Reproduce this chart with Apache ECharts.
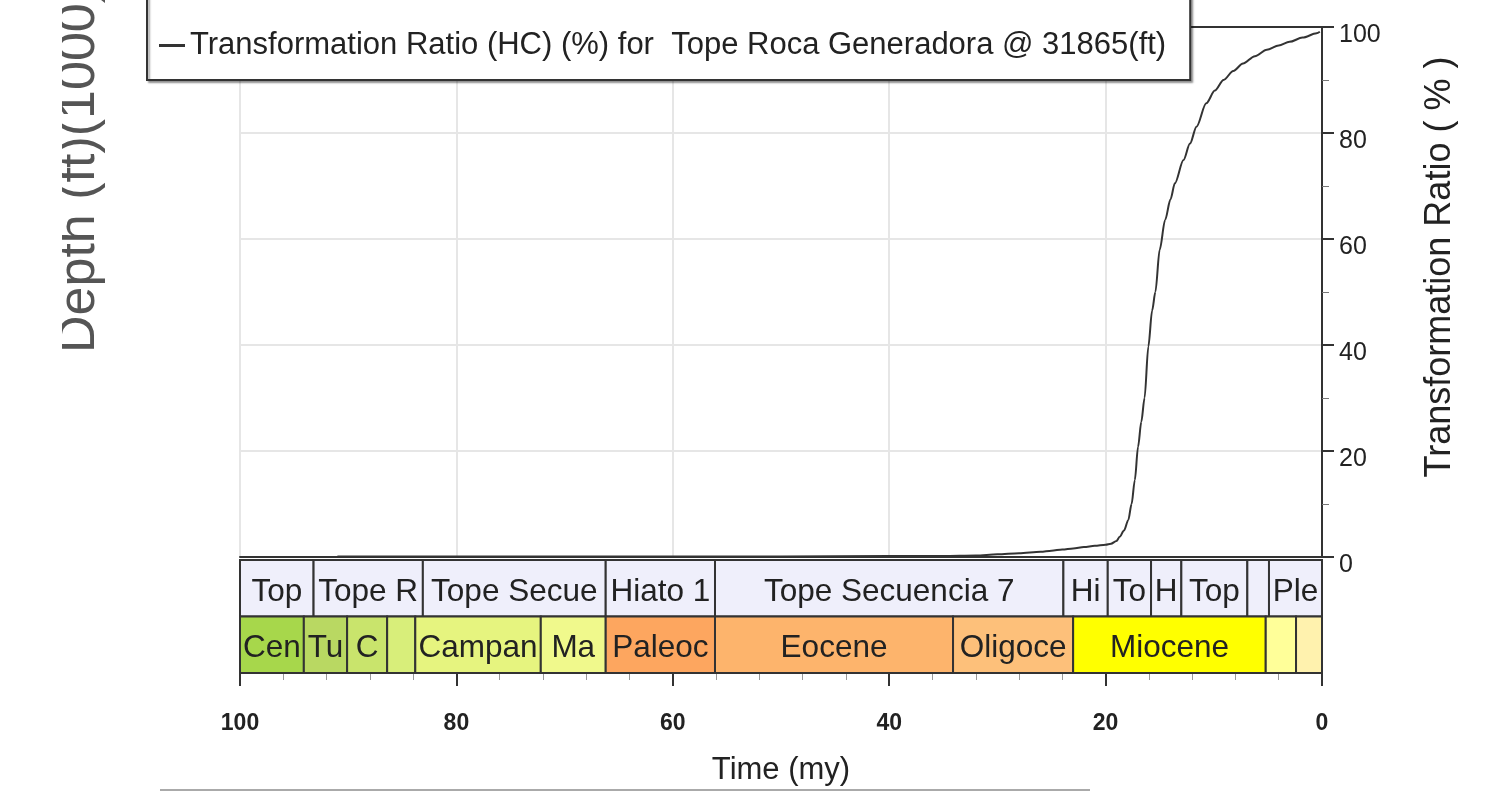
<!DOCTYPE html>
<html>
<head>
<meta charset="utf-8">
<script src="https://cdn.jsdelivr.net/npm/echarts@6/dist/echarts.min.js"></script>
<style>html,body{margin:0;padding:0;background:#fff;}#chart{width:1512px;height:793px;}</style>
</head>
<body>
<div id="chart"></div>
<script>
// ---- data ----
const seriesName = 'Transformation Ratio (HC) (%) for  Tope Roca Generadora @ 31865(ft)';
const timeMy = [91, 85, 80, 70, 60, 50, 40, 35, 32, 30, 28, 26, 25, 24, 23, 22, 21, 20, 19.5, 19, 18.7, 18.3, 17.9, 17.6, 17.3, 17.0, 16.7, 16.4, 16.05, 15.7, 15.4, 15.0, 14.5, 14.0, 13.6, 12.8, 12.2, 11.6, 10.7, 9.9, 9.1, 8.2, 7.3, 6.2, 5.1, 4.0, 3.0, 1.8, 0.5, 0.2];
const trPct  = [0.1, 0.1, 0.1, 0.1, 0.1, 0.1, 0.2, 0.2, 0.3, 0.5, 0.7, 1.0, 1.2, 1.4, 1.6, 1.9, 2.1, 2.3, 2.5, 3.0, 3.8, 5.0, 7.0, 10.0, 14.5, 20.8, 25.5, 30.0, 39.7, 46.5, 50.0, 58.0, 63.6, 67.5, 70.5, 74.9, 78.0, 81.2, 85.6, 88.0, 90.0, 91.7, 93.1, 94.5, 95.7, 96.5, 97.2, 98.0, 98.8, 99.1];

const seqStart  = [100, 93.2, 83.1, 66.2, 56.1, 23.9, 19.8, 15.8, 13.0, 6.9, 4.9];
const seqEnd    = [93.2, 83.1, 66.2, 56.1, 23.9, 19.8, 15.8, 13.0, 6.9, 4.9, 0];
const seqLabels = ['Top', 'Tope R', 'Tope Secue', 'Hiato 1', 'Tope Secuencia 7', 'Hi', 'To', 'H', 'Top', '', 'Ple'];

const epochStart  = [100, 94.1, 90.1, 86.4, 83.8, 72.2, 66.2, 56.1, 34.1, 23.0, 5.2, 2.4];
const epochEnd    = [94.1, 90.1, 86.4, 83.8, 72.2, 66.2, 56.1, 34.1, 23.0, 5.2, 2.4, 0];
const epochLabels = ['Cen', 'Tu', 'C', '', 'Campan', 'Ma', 'Paleoc', 'Eocene', 'Oligoce', 'Miocene', '', ''];

const xTicks = [0, 20, 40, 60, 80, 100];
const yTicks = [0, 20, 40, 60, 80, 100];

const xAxisTitle = 'Time (my)';
const yAxisTitle = 'Transformation Ratio ( % )';
const leftTitle = 'Depth (ft)(1000)';

// ---- styles ----
const epochColors = ['#a7d74b', '#b9d862', '#c9e46c', '#d8ee7a', '#e6f47f', '#f0f98c', '#fda65f', '#fdb46c', '#fdc07a', '#ffff00', '#ffff99', '#fff2ae'];
const seqColor = '#efeffb';
const FONT = '"Liberation Sans", Arial, sans-serif';

const chart = echarts.init(document.getElementById('chart'), null, {renderer: 'canvas'});

function bandRenderer(starts, ends, labels, colorFn) {
  return function (params, api) {
    const i = params.dataIndex;
    const row = api.value(2);
    const p1 = api.coord([starts[i], row + 1]);
    const p2 = api.coord([ends[i], row]);
    const x = Math.min(p1[0], p2[0]);
    const y = Math.min(p1[1], p2[1]);
    const w = Math.abs(p2[0] - p1[0]);
    const h = Math.abs(p2[1] - p1[1]);
    return {
      type: 'group',
      children: [
        {type: 'rect', shape: {x: x, y: y, width: w, height: h},
         style: {fill: colorFn(i), stroke: '#333', lineWidth: 2}},
        {type: 'text', x: x + w / 2, y: y + h / 2 + 4,
         style: {text: labels[i], fill: '#222', font: '31.5px ' + FONT, align: 'center', verticalAlign: 'middle'}}
      ]
    };
  };
}

const seqData = seqStart.map((s, i) => [s, seqEnd[i], 1]);
const epochData = epochStart.map((s, i) => [s, epochEnd[i], 0]);

const option = {
  animation: false,
  backgroundColor: '#fff',
  textStyle: {fontFamily: FONT},
  legend: {
    data: [seriesName],
    left: 147, top: -10,
    icon: 'rect', itemWidth: 26, itemHeight: 3, itemGap: 0,
    selectedMode: false,
    textStyle: {fontSize: 31, color: '#222', fontFamily: FONT},
    backgroundColor: '#fff', borderColor: '#333', borderWidth: 2,
    padding: [40, 24, 19, 12],
    shadowColor: 'rgba(0,0,0,0.35)', shadowBlur: 2, shadowOffsetX: 2, shadowOffsetY: 2,
    z: 20
  },
  grid: [
    {left: 240, right: 190, top: 27, height: 530},
    {left: 240, right: 190, top: 560, height: 113}
  ],
  xAxis: [
    {gridIndex: 0, type: 'value', min: 0, max: 100, interval: 20, inverse: true, position: 'bottom',
     axisLine: {show: true, onZero: false, lineStyle: {color: '#333', width: 2}},
     axisTick: {show: false}, axisLabel: {show: false},
     splitLine: {show: true, lineStyle: {color: '#e6e6e6', width: 2}}},
    {gridIndex: 0, type: 'value', min: 0, max: 100, inverse: true, position: 'top',
     axisLine: {show: true, onZero: false, lineStyle: {color: '#333', width: 2}},
     axisTick: {show: false}, axisLabel: {show: false}, splitLine: {show: false}},
    {gridIndex: 1, type: 'value', min: 0, max: 100, interval: 20, inverse: true, position: 'bottom',
     axisLine: {show: true, onZero: false, lineStyle: {color: '#333', width: 2}},
     axisTick: {show: true, inside: false, length: 13, lineStyle: {color: '#333', width: 2}},
     minorTick: {show: true, splitNumber: 5, length: 7, lineStyle: {color: '#999', width: 1}},
     axisLabel: {show: true, fontSize: 23, fontWeight: 'bold', color: '#222', margin: 39,
       formatter: v => xTicks.indexOf(v) >= 0 ? String(v) : ''},
     splitLine: {show: false},
     name: xAxisTitle, nameLocation: 'middle', nameGap: 82,
     nameTextStyle: {fontSize: 31, color: '#222'}}
  ],
  yAxis: [
    {gridIndex: 0, type: 'value', min: 0, max: 100, interval: 20, position: 'right',
     axisLine: {show: true, lineStyle: {color: '#333', width: 2}},
     axisTick: {show: true, inside: false, length: 12, lineStyle: {color: '#333', width: 2}},
     minorTick: {show: true, splitNumber: 2, length: 7, lineStyle: {color: '#777', width: 1}},
     axisLabel: {fontSize: 25, color: '#222', margin: 17, verticalAlign: 'top', lineHeight: 16,
       formatter: v => yTicks.indexOf(v) >= 0 ? String(v) : ''},
     splitLine: {show: true, lineStyle: {color: '#e6e6e6', width: 2}}},
    {gridIndex: 0, type: 'value', min: 0, max: 100, position: 'left',
     axisLine: {show: true, lineStyle: {color: '#333', width: 2}},
     axisTick: {show: false}, axisLabel: {show: false}, splitLine: {show: false}},
    {gridIndex: 1, type: 'value', min: 0, max: 2, position: 'left',
     axisLine: {show: true, lineStyle: {color: '#333', width: 2}},
     axisTick: {show: false}, axisLabel: {show: false}, splitLine: {show: false}},
    {gridIndex: 1, type: 'value', min: 0, max: 2, position: 'right',
     axisLine: {show: true, lineStyle: {color: '#333', width: 2}},
     axisTick: {show: false}, axisLabel: {show: false}, splitLine: {show: false}}
  ],
  series: [
    {name: seriesName, type: 'line', xAxisIndex: 0, yAxisIndex: 0,
     data: timeMy.map((t, i) => [t, trPct[i]]),
     showSymbol: false, smooth: 0.3, smoothMonotone: 'x',
     lineStyle: {color: '#333', width: 2}, itemStyle: {color: '#333'}, z: 5},
    {type: 'custom', xAxisIndex: 2, yAxisIndex: 2, data: seqData,
     encode: {x: [0, 1], y: 2},
     renderItem: bandRenderer(seqStart, seqEnd, seqLabels, () => seqColor), z: 3},
    {type: 'custom', xAxisIndex: 2, yAxisIndex: 2, data: epochData,
     encode: {x: [0, 1], y: 2},
     renderItem: bandRenderer(epochStart, epochEnd, epochLabels, i => epochColors[i]), z: 3}
  ],
  graphic: [
    {type: 'text', x: 80, y: 353, rotation: Math.PI / 2, z: 50,
     style: {text: leftTitle, font: '52px ' + FONT, fill: '#555', align: 'left', verticalAlign: 'middle'}},
    {type: 'rect', shape: {x: 0, y: 0, width: 62, height: 380}, z: 60, style: {fill: '#fff'}},
    {type: 'text', x: 1440, y: 267, rotation: Math.PI / 2, z: 50,
     style: {text: yAxisTitle, font: '36px ' + FONT, fill: '#222', align: 'center', verticalAlign: 'middle'}},
    {type: 'line', shape: {x1: 160, y1: 790, x2: 1090, y2: 790}, z: 50, style: {stroke: '#aaa', lineWidth: 2}}
  ]
};
chart.setOption(option);
</script>
</body>
</html>
